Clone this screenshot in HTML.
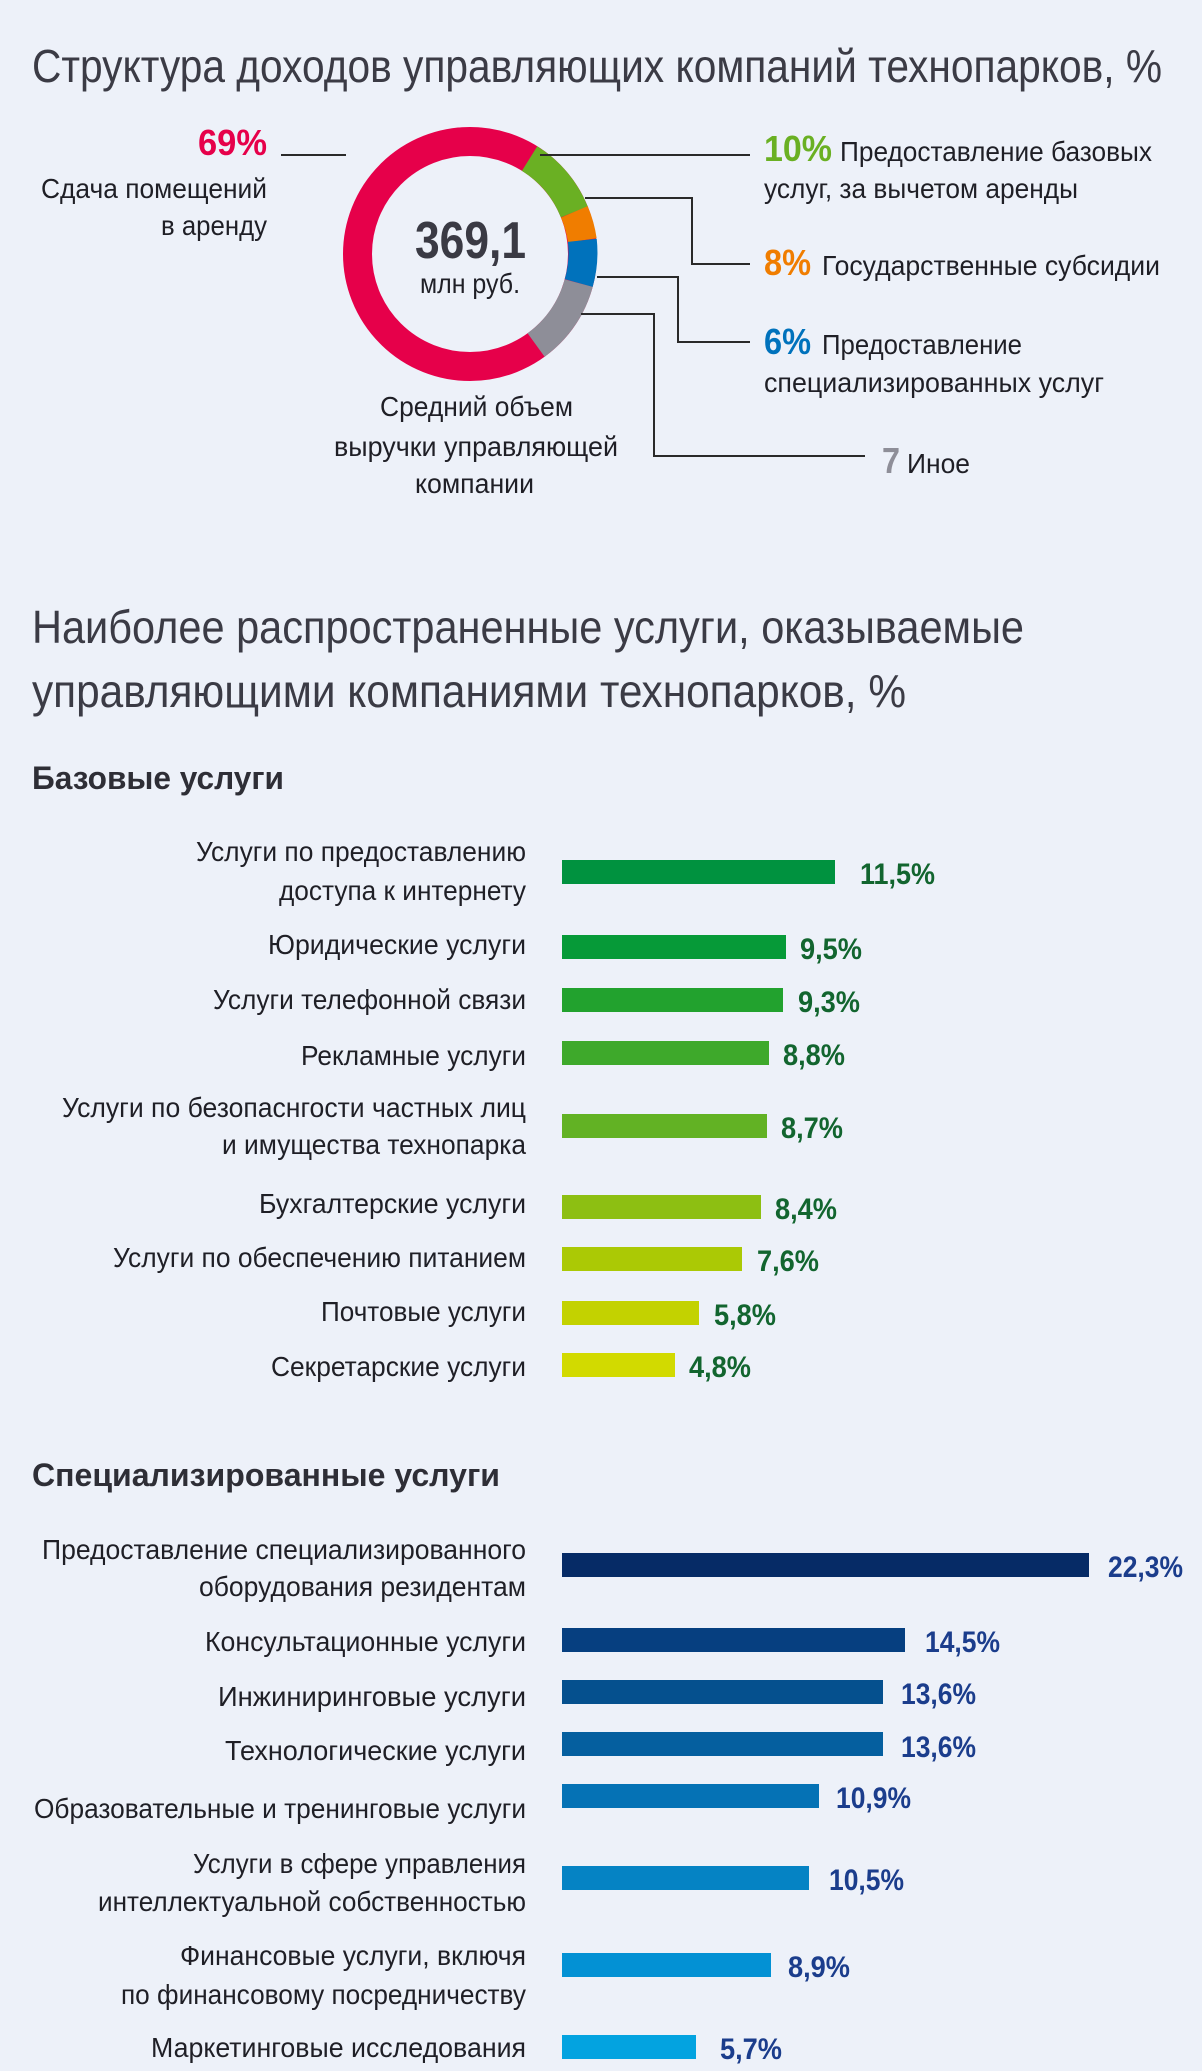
<!DOCTYPE html>
<html><head><meta charset="utf-8"><style>
html,body{margin:0;padding:0;background:#edf1f9;}
svg{display:block;}
text{font-family:"Liberation Sans Narrow","Liberation Sans",sans-serif;}
.t{fill:#3b3b45;font-size:46px;}
.l{fill:#1f1f26;font-size:28px;}
.h{fill:#2e2e36;font-size:32px;font-weight:bold;}
.g{fill:#12652f;font-size:30px;font-weight:bold;}
.b{fill:#1b3d8c;font-size:30px;font-weight:bold;}
</style></head><body>
<svg width="1202" height="2071" viewBox="0 0 1202 2071" xmlns="http://www.w3.org/2000/svg">
<rect width="1202" height="2071" fill="#edf1f9"/>
<text class="t" x="32" y="82" textLength="1130" lengthAdjust="spacingAndGlyphs">Структура доходов управляющих компаний технопарков, %</text>

<circle cx="470" cy="254" r="112.5" stroke="#e6004a" stroke-width="29" fill="none"/>
<path d="M529.6,158.6 A112.5,112.5 0 0 1 574.3,211.9" stroke="#6ab023" stroke-width="29" fill="none"/>
<path d="M574.3,211.9 A112.5,112.5 0 0 1 582.3,240.3" stroke="#f07d00" stroke-width="29" fill="none"/>
<path d="M582.3,240.3 A112.5,112.5 0 0 1 578.7,283.1" stroke="#0072bc" stroke-width="29" fill="none"/>
<path d="M578.7,283.1 A112.5,112.5 0 0 1 536.1,345.0" stroke="#8e8e98" stroke-width="29" fill="none"/>

<g stroke="#2a2a2a" stroke-width="2" fill="none">
<path d="M281,155 H346"/>
<path d="M540,155 H750"/>
<path d="M585,198 H692 V264 H750"/>
<path d="M597,277 H678 V342 H750"/>
<path d="M581,314 H654 V456 H865"/>
</g>

<text x="267" y="155" text-anchor="end" font-size="36" font-weight="bold" fill="#e6004a" textLength="69" lengthAdjust="spacingAndGlyphs">69%</text>
<text class="l" x="267" y="198" text-anchor="end" textLength="226" lengthAdjust="spacingAndGlyphs">Сдача помещений</text>
<text class="l" x="267" y="235" text-anchor="end" textLength="106" lengthAdjust="spacingAndGlyphs">в аренду</text>

<text x="415" y="258" font-size="52" font-weight="bold" fill="#3a3a44" textLength="111" lengthAdjust="spacingAndGlyphs">369,1</text>
<text class="l" x="420" y="293" textLength="100" lengthAdjust="spacingAndGlyphs">млн руб.</text>
<text class="l" x="380" y="416" textLength="193" lengthAdjust="spacingAndGlyphs">Средний объем</text>
<text class="l" x="334" y="456" textLength="284" lengthAdjust="spacingAndGlyphs">выручки управляющей</text>
<text class="l" x="415" y="493" textLength="119" lengthAdjust="spacingAndGlyphs">компании</text>

<text x="764" y="161" font-size="36" font-weight="bold" fill="#6ab023" textLength="68" lengthAdjust="spacingAndGlyphs">10%</text>
<text class="l" x="840" y="161" textLength="312" lengthAdjust="spacingAndGlyphs">Предоставление базовых</text>
<text class="l" x="764" y="198" textLength="314" lengthAdjust="spacingAndGlyphs">услуг, за вычетом аренды</text>
<text x="764" y="275" font-size="36" font-weight="bold" fill="#f07d00" textLength="47" lengthAdjust="spacingAndGlyphs">8%</text>
<text class="l" x="822" y="275" textLength="338" lengthAdjust="spacingAndGlyphs">Государственные субсидии</text>
<text x="764" y="354" font-size="36" font-weight="bold" fill="#0072bc" textLength="47" lengthAdjust="spacingAndGlyphs">6%</text>
<text class="l" x="822" y="354" textLength="200" lengthAdjust="spacingAndGlyphs">Предоставление</text>
<text class="l" x="764" y="392" textLength="340" lengthAdjust="spacingAndGlyphs">специализированных услуг</text>
<text x="882" y="473" font-size="36" font-weight="bold" fill="#8e8e98" textLength="18" lengthAdjust="spacingAndGlyphs">7</text>
<text class="l" x="907" y="473" textLength="63" lengthAdjust="spacingAndGlyphs">Иное</text>

<text class="t" x="32" y="643" textLength="992" lengthAdjust="spacingAndGlyphs">Наиболее распространенные услуги, оказываемые</text>
<text class="t" x="32" y="707" textLength="874" lengthAdjust="spacingAndGlyphs">управляющими компаниями технопарков, %</text>
<text class="h" x="32" y="789" textLength="252" lengthAdjust="spacingAndGlyphs">Базовые услуги</text>

<g>
<rect x="562" y="860" width="273" height="24" fill="#00923f"/>
<rect x="562" y="935" width="224" height="24" fill="#069a38"/>
<rect x="562" y="988" width="221" height="24" fill="#22a22e"/>
<rect x="562" y="1041" width="207" height="24" fill="#3ea92b"/>
<rect x="562" y="1114" width="205" height="24" fill="#62b224"/>
<rect x="562" y="1195" width="199" height="24" fill="#8dbf12"/>
<rect x="562" y="1247" width="180" height="24" fill="#abc905"/>
<rect x="562" y="1301" width="137" height="24" fill="#c3d200"/>
<rect x="562" y="1353" width="113" height="24" fill="#d2da00"/>
</g>
<text class="g" x="860" y="884" textLength="75" lengthAdjust="spacingAndGlyphs">11,5%</text>
<text class="g" x="800" y="959" textLength="62" lengthAdjust="spacingAndGlyphs">9,5%</text>
<text class="g" x="798" y="1012" textLength="62" lengthAdjust="spacingAndGlyphs">9,3%</text>
<text class="g" x="783" y="1065" textLength="62" lengthAdjust="spacingAndGlyphs">8,8%</text>
<text class="g" x="781" y="1138" textLength="62" lengthAdjust="spacingAndGlyphs">8,7%</text>
<text class="g" x="775" y="1219" textLength="62" lengthAdjust="spacingAndGlyphs">8,4%</text>
<text class="g" x="757" y="1271" textLength="62" lengthAdjust="spacingAndGlyphs">7,6%</text>
<text class="g" x="714" y="1325" textLength="62" lengthAdjust="spacingAndGlyphs">5,8%</text>
<text class="g" x="689" y="1377" textLength="62" lengthAdjust="spacingAndGlyphs">4,8%</text>

<g text-anchor="end">
<text class="l" x="526" y="861" textLength="330" lengthAdjust="spacingAndGlyphs">Услуги по предоставлению</text>
<text class="l" x="526" y="900" textLength="247" lengthAdjust="spacingAndGlyphs">доступа к интернету</text>
<text class="l" x="526" y="954" textLength="258" lengthAdjust="spacingAndGlyphs">Юридические услуги</text>
<text class="l" x="526" y="1009" textLength="313" lengthAdjust="spacingAndGlyphs">Услуги телефонной связи</text>
<text class="l" x="526" y="1065" textLength="225" lengthAdjust="spacingAndGlyphs">Рекламные услуги</text>
<text class="l" x="526" y="1117" textLength="464" lengthAdjust="spacingAndGlyphs">Услуги по безопаснгости частных лиц</text>
<text class="l" x="526" y="1154" textLength="304" lengthAdjust="spacingAndGlyphs">и имущества технопарка</text>
<text class="l" x="526" y="1213" textLength="267" lengthAdjust="spacingAndGlyphs">Бухгалтерские услуги</text>
<text class="l" x="526" y="1267" textLength="413" lengthAdjust="spacingAndGlyphs">Услуги по обеспечению питанием</text>
<text class="l" x="526" y="1321" textLength="205" lengthAdjust="spacingAndGlyphs">Почтовые услуги</text>
<text class="l" x="526" y="1376" textLength="255" lengthAdjust="spacingAndGlyphs">Секретарские услуги</text>
</g>

<text class="h" x="32" y="1486" textLength="468" lengthAdjust="spacingAndGlyphs">Специализированные услуги</text>

<g>
<rect x="562" y="1553" width="527" height="24" fill="#062b66"/>
<rect x="562" y="1628" width="343" height="24" fill="#063f80"/>
<rect x="562" y="1680" width="321" height="24" fill="#05508e"/>
<rect x="562" y="1732" width="321" height="24" fill="#055f9f"/>
<rect x="562" y="1784" width="257" height="24" fill="#0572b5"/>
<rect x="562" y="1866" width="247" height="24" fill="#0583c4"/>
<rect x="562" y="1953" width="209" height="24" fill="#0391d4"/>
<rect x="562" y="2035" width="134" height="24" fill="#03a3e0"/>
</g>
<text class="b" x="1108" y="1577" textLength="75" lengthAdjust="spacingAndGlyphs">22,3%</text>
<text class="b" x="925" y="1652" textLength="75" lengthAdjust="spacingAndGlyphs">14,5%</text>
<text class="b" x="901" y="1704" textLength="75" lengthAdjust="spacingAndGlyphs">13,6%</text>
<text class="b" x="901" y="1757" textLength="75" lengthAdjust="spacingAndGlyphs">13,6%</text>
<text class="b" x="836" y="1808" textLength="75" lengthAdjust="spacingAndGlyphs">10,9%</text>
<text class="b" x="829" y="1890" textLength="75" lengthAdjust="spacingAndGlyphs">10,5%</text>
<text class="b" x="788" y="1977" textLength="62" lengthAdjust="spacingAndGlyphs">8,9%</text>
<text class="b" x="720" y="2059" textLength="62" lengthAdjust="spacingAndGlyphs">5,7%</text>

<g text-anchor="end">
<text class="l" x="526" y="1559" textLength="484" lengthAdjust="spacingAndGlyphs">Предоставление специализированного</text>
<text class="l" x="526" y="1596" textLength="327" lengthAdjust="spacingAndGlyphs">оборудования резидентам</text>
<text class="l" x="526" y="1651" textLength="321" lengthAdjust="spacingAndGlyphs">Консультационные услуги</text>
<text class="l" x="526" y="1706" textLength="308" lengthAdjust="spacingAndGlyphs">Инжиниринговые услуги</text>
<text class="l" x="526" y="1760" textLength="301" lengthAdjust="spacingAndGlyphs">Технологические услуги</text>
<text class="l" x="526" y="1818" textLength="492" lengthAdjust="spacingAndGlyphs">Образовательные и тренинговые услуги</text>
<text class="l" x="526" y="1873" textLength="333" lengthAdjust="spacingAndGlyphs">Услуги в сфере управления</text>
<text class="l" x="526" y="1911" textLength="428" lengthAdjust="spacingAndGlyphs">интеллектуальной собственностью</text>
<text class="l" x="526" y="1965" textLength="346" lengthAdjust="spacingAndGlyphs">Финансовые услуги, включя</text>
<text class="l" x="526" y="2004" textLength="405" lengthAdjust="spacingAndGlyphs">по финансовому посредничеству</text>
<text class="l" x="526" y="2057" textLength="375" lengthAdjust="spacingAndGlyphs">Маркетинговые исследования</text>
</g>
</svg>
</body></html>
